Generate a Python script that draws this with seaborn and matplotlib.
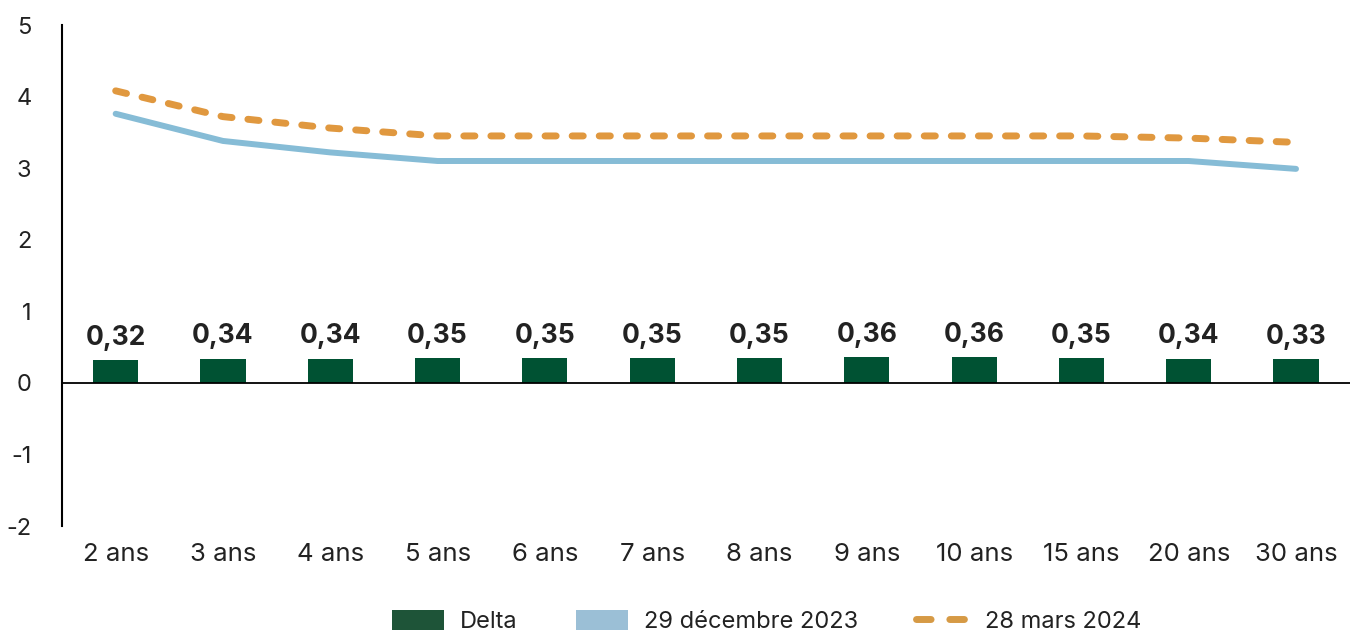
import matplotlib
matplotlib.use("Agg")
import matplotlib.pyplot as plt
import seaborn as sns
import pandas as pd
from matplotlib.patches import Patch
from matplotlib.lines import Line2D

maturities = ['2 ans', '3 ans', '4 ans', '5 ans', '6 ans', '7 ans', '8 ans',
              '9 ans', '10 ans', '15 ans', '20 ans', '30 ans']
delta = [0.32, 0.34, 0.34, 0.35, 0.35, 0.35, 0.35, 0.36, 0.36, 0.35, 0.34, 0.33]
dec_2023 = [3.76, 3.38, 3.22, 3.10, 3.10, 3.10, 3.10, 3.10, 3.10, 3.10, 3.10, 2.99]
mar_2024 = [4.08, 3.72, 3.56, 3.45, 3.45, 3.45, 3.45, 3.45, 3.45, 3.45, 3.42, 3.36]
y_ticks = [-2, -1, 0, 1, 2, 3, 4, 5]

label_delta = 'Delta'
label_dec = '29 décembre 2023'
label_mar = '28 mars 2024'

df = pd.DataFrame({'maturite': maturities, 'delta': delta,
                   'dec': dec_2023, 'mar': mar_2024})

sns.set_theme(style='white')
plt.rcParams['font.family'] = ['Inter', 'DejaVu Sans']

BAR = '#005233'
BLUE = '#86bcd6'
ORANGE = '#e0983f'
TXT = '#222222'

fig = plt.figure(figsize=(13.54, 6.33), dpi=100)
ax = fig.add_axes([0.0458, 0.169, 0.951, 0.7915])

sns.barplot(data=df, x='maturite', y='delta', color=BAR, width=0.42,
            saturation=1, linewidth=0, ax=ax, zorder=3)
sns.lineplot(data=df, x='maturite', y='dec', color=BLUE, linewidth=4.3,
             sort=False, ax=ax, zorder=5)
sns.lineplot(data=df, x='maturite', y='mar', color=ORANGE, linewidth=5,
             sort=False, ax=ax, zorder=6)
line_mar = ax.lines[-1]
line_mar.set_dashes([1.6, 2.3])
line_mar.set_dash_capstyle('round')

for i, v in enumerate(delta):
    ax.annotate(f'{v:.2f}'.replace('.', ','), xy=(i, v), xytext=(0, 11),
                textcoords='offset points', ha='center', va='baseline',
                fontsize=19, fontweight='bold', color=TXT)

ax.axhline(0, color='black', linewidth=1.3, zorder=4)
ax.set_xlim(-0.5, len(maturities) - 0.5)
ax.set_ylim(-2, 5)
ax.set_yticks(y_ticks)
ax.set_yticklabels([str(t) for t in y_ticks])
ax.set_xlabel('')
ax.set_ylabel('')
ax.tick_params(axis='y', length=0, pad=22, labelsize=17, labelcolor=TXT)
ax.tick_params(axis='x', length=0, pad=12, labelsize=18.5, labelcolor=TXT)
for side in ['top', 'right', 'bottom']:
    ax.spines[side].set_visible(False)
ax.spines['left'].set_color('black')
ax.spines['left'].set_linewidth(1.5)

handles = [
    Patch(facecolor='#1e5438', edgecolor='none', label=label_delta),
    Patch(facecolor='#9bbfd6', edgecolor='none', label=label_dec),
    Line2D([0], [0], color='#d69a45', linewidth=5, dashes=[2.1, 2.7],
           dash_capstyle='round', label=label_mar),
]
fig.legend(handles=handles, loc='center', bbox_to_anchor=(0.566, 0.018),
           ncol=3, frameon=False, fontsize=17, handlelength=2.2,
           handleheight=0.9, handletextpad=0.7, columnspacing=2.45,
           labelcolor=TXT)

fig.savefig('out.png', dpi=100)
